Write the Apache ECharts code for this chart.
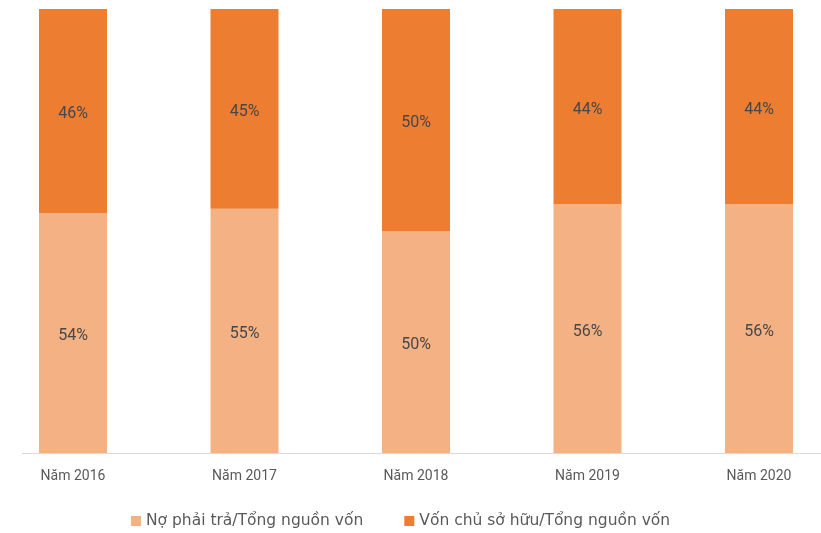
<!DOCTYPE html>
<html>
<head>
<meta charset="utf-8">
<script src="https://cdn.jsdelivr.net/npm/echarts@6/dist/echarts.min.js"></script>
<style>
  html, body { margin: 0; padding: 0; background: #ffffff; }
  #chart { width: 821px; height: 533px; }
</style>
</head>
<body>
<div id="chart"></div>
<script>
// Cơ cấu nguồn vốn theo năm (%)
const categories = ['Năm 2016', 'Năm 2017', 'Năm 2018', 'Năm 2019', 'Năm 2020'];
const debtRatio = [54, 55, 50, 56, 56];      // Nợ phải trả/Tổng nguồn vốn
const equityRatio = [46, 45, 50, 44, 44];    // Vốn chủ sở hữu/Tổng nguồn vốn
const seriesNames = ['Nợ phải trả/Tổng nguồn vốn', 'Vốn chủ sở hữu/Tổng nguồn vốn'];

const FONT = 'Roboto, "Noto Sans", sans-serif';
const LEGEND_FONT = '"DejaVu Sans", "Noto Sans", sans-serif';

const chart = echarts.init(document.getElementById('chart'), null, { renderer: 'canvas' });

const labelStyle = {
  show: true,
  position: 'inside',
  offset: [0, 3],
  formatter: p => p.value + '%',
  color: '#474747',
  fontSize: 16,
  fontFamily: FONT
};

chart.setOption({
  animation: false,
  backgroundColor: '#ffffff',
  grid: {
    left: -12.75, width: 857.5, top: 9, bottom: 80,
    containLabel: false,
    outerBoundsMode: 'none'
  },
  legend: {
    left: 131,
    top: 513,
    padding: 0,
    itemWidth: 10,
    itemHeight: 10,
    itemGap: 41,
    icon: 'rect',
    textStyle: { color: '#595959', fontSize: 15.5, fontFamily: LEGEND_FONT },
    data: seriesNames
  },
  xAxis: {
    type: 'category',
    data: categories,
    axisLine: { show: false },
    axisTick: { show: false },
    axisLabel: { color: '#595959', fontSize: 14, fontFamily: FONT, margin: 16 }
  },
  yAxis: {
    type: 'value',
    min: 0,
    max: 100,
    show: false,
    splitLine: { show: false }
  },
  graphic: [{
    type: 'line',
    shape: { x1: 22, y1: 453.5, x2: 821, y2: 453.5 },
    style: { stroke: '#d9d9d9', lineWidth: 1 },
    z: 10
  }],
  series: [
    {
      name: seriesNames[0],
      type: 'bar',
      stack: 'total',
      barWidth: 68,
      data: debtRatio,
      itemStyle: { color: '#F4B183' },
      label: labelStyle
    },
    {
      name: seriesNames[1],
      type: 'bar',
      stack: 'total',
      barWidth: 68,
      data: equityRatio,
      itemStyle: { color: '#ED7D31' },
      label: labelStyle
    }
  ]
});
</script>
</body>
</html>
